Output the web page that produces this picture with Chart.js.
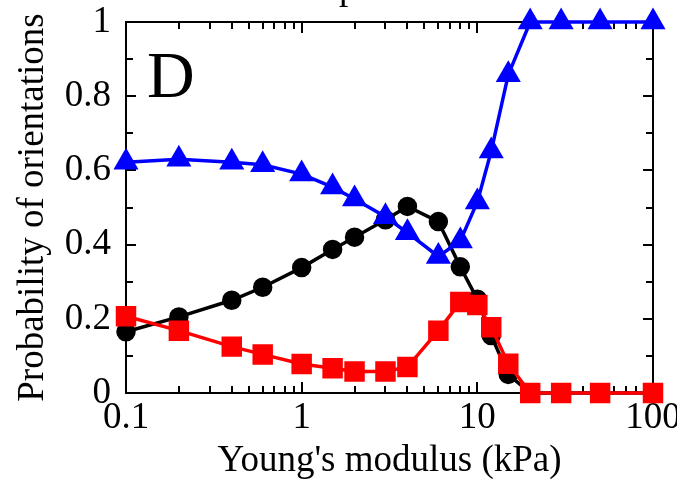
<!DOCTYPE html>
<html>
<head>
<meta charset="utf-8">
<script src="https://cdn.jsdelivr.net/npm/chart.js@4"></script>
<style>
  html, body { margin: 0; padding: 0; background: #fff; overflow: hidden; }
  #wrap { width: 720px; height: 484px; }
</style>
</head>
<body>
<div id="wrap"><canvas id="chart" width="720" height="484"></canvas></div>
<script>
// Young's modulus (kPa) sample points
const modulus = [0.1, 0.2, 0.4, 0.6, 1, 1.5, 2, 3, 4, 6, 8, 10, 12, 15, 20, 30, 50, 100];
// probability of each orientation
const blackCircles = [0.165, 0.205, 0.25, 0.285, 0.338, 0.387, 0.42, 0.467, 0.503, 0.462, 0.34, 0.253, 0.155, 0.05, 0, 0, 0, 0];
const redSquares = [0.207, 0.168, 0.125, 0.104, 0.078, 0.067, 0.058, 0.058, 0.07, 0.168, 0.245, 0.237, 0.177, 0.079, 0, 0, 0, 0];
const blueTriangles = [0.622, 0.63, 0.622, 0.615, 0.59, 0.555, 0.523, 0.475, 0.432, 0.368, 0.41, 0.515, 0.652, 0.858, 1, 1, 1, 1];

const xTicks = [0.1, 0.2, 0.3, 0.4, 0.5, 0.6, 0.7, 0.8, 0.9, 1, 2, 3, 4, 5, 6, 7, 8, 9, 10, 20, 30, 40, 50, 60, 70, 80, 90, 100];
const yTicks = [0, 0.1, 0.2, 0.3, 0.4, 0.5, 0.6, 0.7, 0.8, 0.9, 1];

const serif = "'Liberation Serif', 'Times New Roman', serif";

function pts(ys) {
  return modulus.map((x, i) => ({ x: x, y: ys[i] }));
}

// frame, inward ticks and panel letter
const framePlugin = {
  id: "frame",
  beforeDatasetsDraw(chart) {
    const { ctx, chartArea: a, scales } = chart;
    ctx.save();
    ctx.strokeStyle = "#000";
    ctx.lineWidth = 2;
    ctx.strokeRect(a.left, a.top, a.right - a.left, a.bottom - a.top);
    ctx.beginPath();
    xTicks.forEach(v => {
      const px = Math.round(scales.x.getPixelForValue(v));
      const l10 = Math.log10(v);
      const len = Math.abs(l10 - Math.round(l10)) < 1e-9 ? 11 : 7;
      ctx.moveTo(px, a.bottom); ctx.lineTo(px, a.bottom - len);
      ctx.moveTo(px, a.top); ctx.lineTo(px, a.top + len);
    });
    yTicks.forEach((v, i) => {
      const py = Math.round(scales.y.getPixelForValue(v));
      const len = i % 2 === 0 ? 10 : 7;
      ctx.moveTo(a.left, py); ctx.lineTo(a.left + len, py);
      ctx.moveTo(a.right, py); ctx.lineTo(a.right - len, py);
    });
    ctx.stroke();
    ctx.fillStyle = "#000";
    ctx.font = "66px " + serif;
    ctx.textBaseline = "alphabetic";
    ctx.fillText("D", a.left + 21, a.top + 75);
    ctx.font = "37px " + serif;
    ctx.fillText("p", 339, -1);
    ctx.restore();
  }
};

new Chart(document.getElementById("chart"), {
  type: "line",
  data: {
    datasets: [
      {
        data: pts(redSquares),
        borderColor: "#ff0000",
        backgroundColor: "#ff0000",
        pointStyle: "rect",
        pointRadius: 12,
        borderWidth: 3.5,
        clip: false
      },
      {
        data: pts(blueTriangles),
        borderColor: "#0000ff",
        backgroundColor: "#0000ff",
        pointStyle: "triangle",
        pointRadius: 11,
        borderWidth: 3.5,
        clip: false
      },
      {
        data: pts(blackCircles),
        borderColor: "#000",
        backgroundColor: "#000",
        pointStyle: "circle",
        pointRadius: 8,
        borderWidth: 3.5,
        clip: false
      }
    ]
  },
  options: {
    responsive: false,
    animation: false,
    devicePixelRatio: 1,
    layout: { padding: { top: 22, right: 67, bottom: 0, left: 0 } },
    plugins: { legend: { display: false }, tooltip: { enabled: false } },
    elements: { point: { borderWidth: 0 }, line: { tension: 0 } },
    scales: {
      x: {
        type: "logarithmic",
        min: 0.1,
        max: 100,
        grid: { display: false, drawTicks: false, tickLength: 0 },
        border: { display: false },
        afterFit: s => { s.height = 91; s.paddingLeft = 0; s.paddingRight = 0; },
        ticks: {
          autoSkip: false,
          maxRotation: 0,
          padding: 3,
          color: "#000",
          font: { family: serif, size: 37 },
          callback: v => {
            const l = Math.log10(v);
            return Math.abs(l - Math.round(l)) < 1e-9 ? String(v) : "";
          }
        },
        title: {
          display: true,
          text: "Young's modulus (kPa)",
          color: "#000",
          font: { family: serif, size: 37 },
          padding: { top: 0, bottom: 1 }
        }
      },
      y: {
        min: 0,
        max: 1,
        grid: { display: false, drawTicks: false, tickLength: 0 },
        border: { display: false },
        afterFit: s => { s.width = 126; s.paddingTop = 0; s.paddingBottom = 0; },
        ticks: {
          stepSize: 0.1,
          autoSkip: false,
          padding: 15,
          color: "#000",
          font: { family: serif, size: 37 },
          callback: v => (Math.round(v * 10) % 2 === 0 ? String(+v.toFixed(1)) : "")
        },
        title: {
          display: true,
          text: "Probability of orientations",
          color: "#000",
          font: { family: serif, size: 37 },
          padding: { top: 11, bottom: 0 }
        }
      }
    }
  },
  plugins: [framePlugin]
});
</script>
</body>
</html>
